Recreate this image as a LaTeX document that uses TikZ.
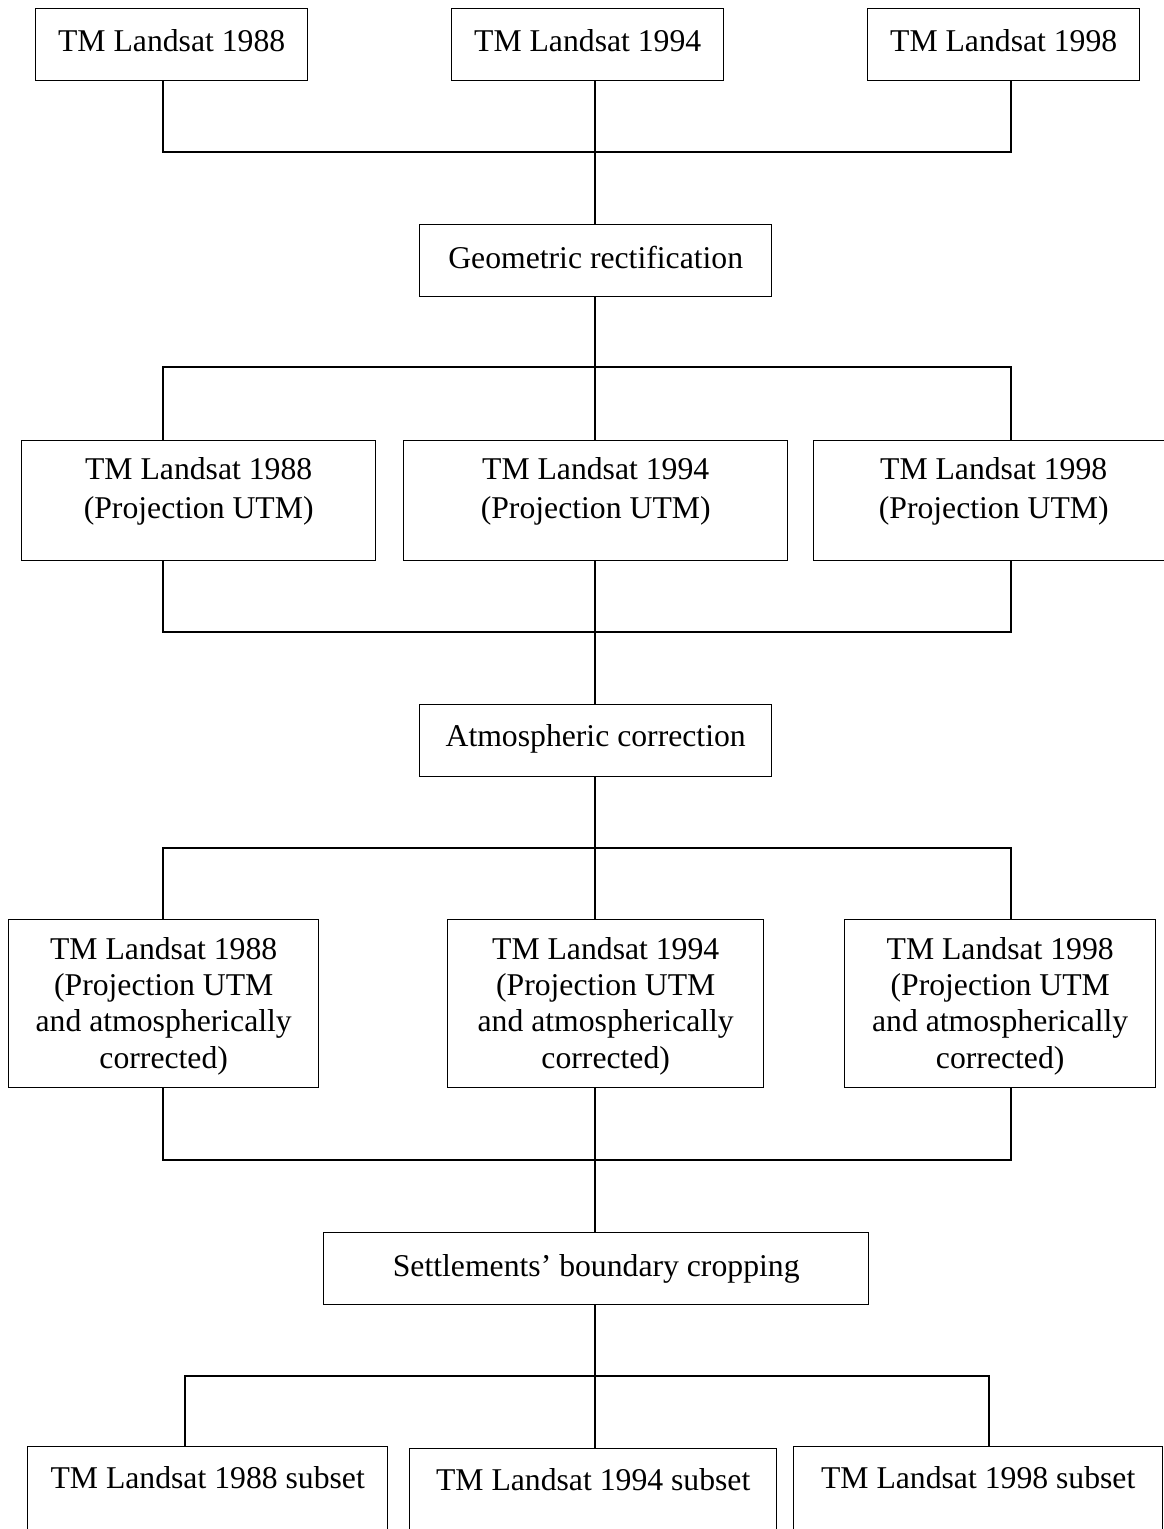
\documentclass[tikz,border=0pt]{standalone}
\usepackage{fontspec}
\setmainfont{Liberation Serif}
\begin{document}
\begin{tikzpicture}[x=1pt,y=-1pt,line width=1.4pt,
  box/.style={draw,rectangle,inner sep=0pt,anchor=north west,line width=1.4pt},
  lbl/.style={anchor=north,inner sep=0pt,align=center,font=\fontsize{31.7}{37}\selectfont},
  lbltwo/.style={lbl,font=\fontsize{31.7}{39}\selectfont},
  lblfour/.style={lbl,font=\fontsize{31.7}{36.3}\selectfont}]
\useasboundingbox (0,0) rectangle (1163,1529);
% boxes
\node[box,minimum width=272pt,minimum height=72pt] (a1) at (35,8) {};
\node[box,minimum width=272pt,minimum height=72pt] (a2) at (451,8) {};
\node[box,minimum width=272pt,minimum height=72pt] (a3) at (867,8) {};
\node[box,minimum width=352pt,minimum height=72pt] (geo) at (419,224) {};
\node[box,minimum width=354pt,minimum height=120pt] (b1) at (21,440) {};
\node[box,minimum width=384pt,minimum height=120pt] (b2) at (403,440) {};
\node[box,minimum width=360pt,minimum height=120pt] (b3) at (813,440) {};
\node[box,minimum width=352pt,minimum height=72pt] (atm) at (419,704) {};
\node[box,minimum width=310pt,minimum height=168pt] (c1) at (8,919) {};
\node[box,minimum width=316pt,minimum height=168pt] (c2) at (447,919) {};
\node[box,minimum width=311pt,minimum height=168pt] (c3) at (844,919) {};
\node[box,minimum width=545pt,minimum height=72pt] (set) at (323,1232) {};
\node[box,minimum width=360pt,minimum height=110pt] (d1) at (27,1446) {};
\node[box,minimum width=367pt,minimum height=110pt] (d2) at (409,1448) {};
\node[box,minimum width=369pt,minimum height=110pt] (d3) at (793,1446) {};
% labels
\node[lbl] (a1t) at ([yshift=-20.5pt]a1.north) {TM Landsat 1988};
\node[lbl] (a2t) at ([yshift=-20.5pt]a2.north) {TM Landsat 1994};
\node[lbl] (a3t) at ([yshift=-20.5pt]a3.north) {TM Landsat 1998};
\node[lbl] (geot) at ([yshift=-21.5pt]geo.north) {Geometric rectification};
\node[lbltwo] (b1t) at ([yshift=-16.5pt]b1.north) {TM Landsat 1988\\(Projection UTM)};
\node[lbltwo] (b2t) at ([yshift=-16.5pt]b2.north) {TM Landsat 1994\\(Projection UTM)};
\node[lbltwo] (b3t) at ([yshift=-16.5pt]b3.north) {TM Landsat 1998\\(Projection UTM)};
\node[lbl] (atmt) at ([yshift=-19.5pt]atm.north) {Atmospheric correction};
\node[lblfour] (c1t) at ([yshift=-17.5pt]c1.north) {TM Landsat 1988\\(Projection UTM\\and atmospherically\\corrected)};
\node[lblfour] (c2t) at ([yshift=-17.5pt]c2.north) {TM Landsat 1994\\(Projection UTM\\and atmospherically\\corrected)};
\node[lblfour] (c3t) at ([yshift=-17.5pt]c3.north) {TM Landsat 1998\\(Projection UTM\\and atmospherically\\corrected)};
\node[lbl] (sett) at ([yshift=-22pt]set.north) {Settlements’ boundary cropping};
\node[lbl] (d1t) at ([yshift=-20pt]d1.north) {TM Landsat 1988 subset};
\node[lbl] (d2t) at ([yshift=-20pt]d2.north) {TM Landsat 1994 subset};
\node[lbl] (d3t) at ([yshift=-20pt]d3.north) {TM Landsat 1998 subset};
% connector columns and buses
\coordinate (L) at (163,0);
\coordinate (C) at (595,0);
\coordinate (R) at (1011,0);
\coordinate (L2) at (185,0);
\coordinate (R2) at (989,0);
\coordinate (h1) at (595,152);
\coordinate (h2) at (595,367);
\coordinate (h3) at (595,632);
\coordinate (h4) at (595,848);
\coordinate (h5) at (595,1160);
\coordinate (h6) at (595,1376);
% connectors
\draw (a1.south -| L) -- (h1 -| L) -- (h1 -| R) -- (a3.south -| R);
\draw (a2.south -| C) -- (geo.north -| C);
\draw (geo.south -| C) -- (h2);
\draw (b1.north -| L) -- (h2 -| L) -- (h2 -| R) -- (b3.north -| R);
\draw (h2) -- (b2.north -| C);
\draw (b1.south -| L) -- (h3 -| L) -- (h3 -| R) -- (b3.south -| R);
\draw (b2.south -| C) -- (atm.north -| C);
\draw (atm.south -| C) -- (h4);
\draw (c1.north -| L) -- (h4 -| L) -- (h4 -| R) -- (c3.north -| R);
\draw (h4) -- (c2.north -| C);
\draw (c1.south -| L) -- (h5 -| L) -- (h5 -| R) -- (c3.south -| R);
\draw (c2.south -| C) -- (set.north -| C);
\draw (set.south -| C) -- (h6);
\draw (d1.north -| L2) -- (h6 -| L2) -- (h6 -| R2) -- (d3.north -| R2);
\draw (h6) -- (d2.north -| C);
\end{tikzpicture}
\end{document}
